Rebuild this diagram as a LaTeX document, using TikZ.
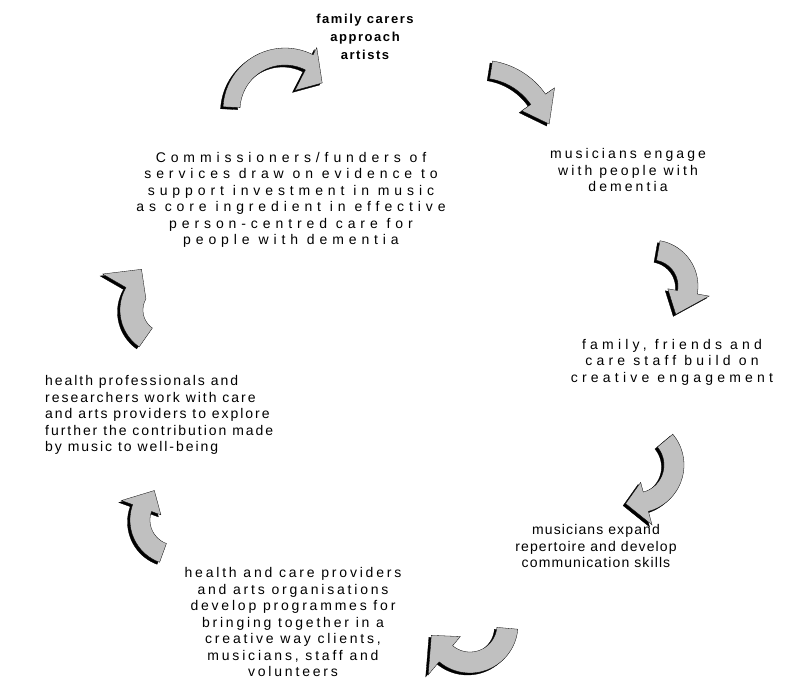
\documentclass[tikz,border=0pt]{standalone}
\usepackage{fontspec}
\setmainfont{Liberation Sans}
\definecolor{arrowgray}{RGB}{192,192,192}
\tikzset{
  steptext/.style={font=\fontsize{14}{16.5}\selectfont\addfontfeatures{LetterSpace=#1},
    inner sep=0pt, align=center},
  steptext/.default=16,
  starttext/.style={inner sep=0pt, align=center,
    font=\fontsize{13}{18}\selectfont\bfseries\addfontfeatures{LetterSpace=12}},
}

\begin{document}
\begin{tikzpicture}[x=1pt,y=-1pt]
  \useasboundingbox (0,0) rectangle (806,683);
  % curved block arrows: centre, inner/outer radius, tail/base/tip angle, head radii
  \foreach \cx/\cy/\ri/\ro/\at/\ab/\ap/\hi/\ho in {
      285/110/45/62/183/297/324/22/70,
      480/140/62/80/279/325/347/51/91,
      652/286/26/46/280/370/410/16/58,
      636/465/28/48/320/435/465/18/62,
      470/625/27/48/5/130/165/15/65,
      175/520/25/45/110/200/235/15/57,
      165/310/22/45/125/210/240/22/72
  } {
    \foreach \sx/\sy/\col in {-2.5/2/black, 0/0/arrowgray}
      \path[fill=\col, draw=black, line width=0.3pt, shift={(\sx,\sy)}]
        plot[domain=\at:\ab, samples=30] ({\cx+\ro*cos(\x)},{\cy+\ro*sin(\x)})
        -- ({\cx+\ho*cos(\ab)},{\cy+\ho*sin(\ab)})
        -- ({\cx+(\hi+\ho)/2*cos(\ap)},{\cy+(\hi+\ho)/2*sin(\ap)})
        -- ({\cx+\hi*cos(\ab)},{\cy+\hi*sin(\ab)})
        -- plot[domain=\ab:\at, samples=30] ({\cx+\ri*cos(\x)},{\cy+\ri*sin(\x)})
        -- cycle;
  }
  % the steps of the cycle
  \node[starttext] (carers) at (365,37) {family carers\\approach\\artists};
  \node[steptext=22] (engage) at (628,170) {musicians engage\\with people with\\dementia};
  \node[steptext=30] (family) at (672,362) {family, friends and\\care staff build on\\creative engagement};
  \node[steptext=8] (expand) at (596,546) {musicians expand\\repertoire and develop\\communication skills};
  \node[steptext=20] (providers) at (293,622) {health and care providers\\and arts organisations\\develop programmes for\\bringing together in a\\creative way clients,\\musicians, staff and\\volunteers};
  \node[steptext=14, align=left, anchor=west] (research) at (45,415) {health professionals and\\researchers work with care\\and arts providers to explore\\further the contribution made\\by music to well-being};
  \node[steptext=35] (funders) at (291,200) {Commissioners/funders of\\services draw on evidence to\\support investment in music\\as core ingredient in effective\\person-centred care for\\people with dementia};
\end{tikzpicture}
\end{document}
